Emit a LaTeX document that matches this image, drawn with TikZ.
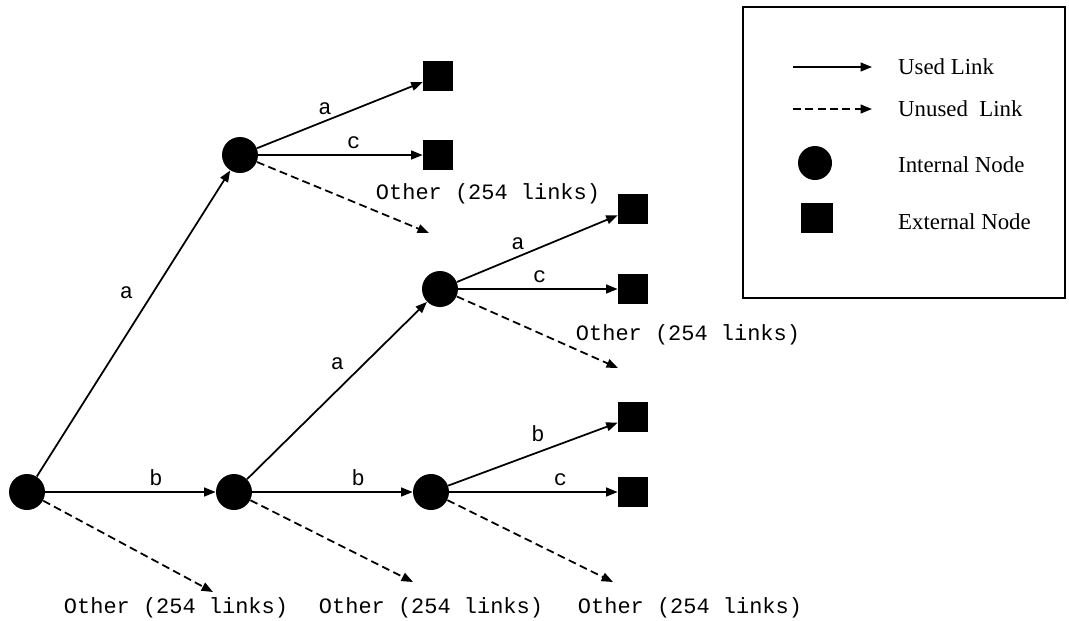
\documentclass[tikz,border=0pt]{standalone}
\usepackage{fontspec}
\setmainfont{Liberation Serif}
\setmonofont{Liberation Mono}
\usetikzlibrary{arrows.meta}
\tikzset{%
    inode/.style   = {circle,fill,inner sep=0pt,minimum size=7.2mm},
    enode/.style   = {rectangle,fill,inner sep=0pt,minimum width=6mm,minimum height=6mm},
    used/.style    = {line width=1pt,-{Triangle[length=6.5pt,width=5pt]}},
    unused/.style  = {used,dash pattern=on 4.5pt off 2.5pt},
    lbl/.style     = {font=\ttfamily\fontsize{12.5}{14}\selectfont},
    keytext/.style = {anchor=west,font=\fontsize{13}{15}\selectfont}
}

\begin{document}
\begin{tikzpicture}[x=0.02cm,y=-0.02cm]
          \useasboundingbox (0,0) rectangle (1069,620);

          % internal nodes
          \node[inode] (r) at (27,492)  {};
          \node[inode] (t) at (240,155) {};
          \node[inode] (m) at (234,492) {};
          \node[inode] (u) at (440,289) {};
          \node[inode] (l) at (431,492) {};

          % external nodes
          \node[enode] (ta) at (438,76)  {};
          \node[enode] (tc) at (438,155) {};
          \node[enode] (ua) at (633,209) {};
          \node[enode] (uc) at (633,289) {};
          \node[enode] (lb) at (633,417) {};
          \node[enode] (lc) at (633,492) {};

          % free ends of the unused links
          \coordinate (r0) at (213,592);
          \coordinate (t0) at (429,233);
          \coordinate (m0) at (413,582);
          \coordinate (u0) at (618,368);
          \coordinate (l0) at (613,582);

          \begin{scope}
            \draw[used] (r) -- node[lbl,pos=.6,left=7.5pt]{a} (t);
            \draw[used] (r) -- node[lbl,pos=.65,above]{b} (m);
            \draw[used] (t) -- node[lbl,pos=.41,above]{a} (ta);
            \draw[used] (t) -- node[lbl,pos=.58,above]{c} (tc);
            \draw[used] (m) -- node[lbl,pos=.65,left=7.5pt]{a} (u);
            \draw[used] (m) -- node[lbl,pos=.66,above]{b} (l);
            \draw[used] (u) -- node[lbl,pos=.38,above]{a} (ua);
            \draw[used] (u) -- node[lbl,pos=.51,above]{c} (uc);
            \draw[used] (l) -- node[lbl,pos=.53,above=2pt]{b} (lb);
            \draw[used] (l) -- node[lbl,pos=.66,above]{c} (lc);
          \end{scope}

          \begin{scope}
            \draw[unused] (r) -- (r0);
            \draw[unused] (t) -- (t0);
            \draw[unused] (m) -- (m0);
            \draw[unused] (u) -- (u0);
            \draw[unused] (l) -- (l0);
          \end{scope}

          \node[lbl] (ro) at (176,608) {Other (254 links)};
          \node[lbl] (to) at (488,194) {Other (254 links)};
          \node[lbl] (mo) at (431,608) {Other (254 links)};
          \node[lbl] (uo) at (688,335) {Other (254 links)};
          \node[lbl] (lo) at (690,608) {Other (254 links)};

          % legend
          \begin{scope}
            \node[draw,line width=1pt,inner sep=0pt,minimum width=6.44cm,minimum height=5.82cm] (key) at (904,152.5) {};
            \coordinate (k1s) at (793,67);
            \coordinate (k1e) at (872,67);
            \coordinate (k2s) at (793,109);
            \coordinate (k2e) at (872,109);
            \draw[used] (k1s) -- (k1e);
            \draw[unused] (k2s) -- (k2e);
            \node[inode,minimum size=6.8mm] (kc) at (815,163) {};
            \node[enode,minimum width=6.4mm] (ks) at (817,218) {};
            \node[keytext] (k1) at (892,67)  {Used Link};
            \node[keytext] (k2) at (892,109) {Unused\ \ Link};
            \node[keytext] (k3) at (892,165) {Internal Node};
            \node[keytext] (k4) at (892,222) {External Node};
          \end{scope}
        \end{tikzpicture}
\end{document}
